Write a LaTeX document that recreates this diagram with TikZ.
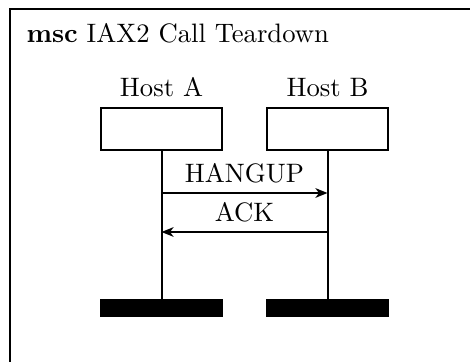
\documentclass[tikz,border=0pt]{standalone}
\usetikzlibrary{arrows.meta}
\begin{document}
\begin{tikzpicture}[x=0.375pt,y=-0.375pt,
  instbox/.style={draw,line width=0.75pt,minimum width=45.4pt,minimum height=15.4pt,inner sep=0pt,anchor=north},
  endbar/.style={fill=black,draw=black,line width=0.3pt,minimum width=46pt,minimum height=6.4pt,inner sep=0pt,anchor=north},
  lifeline/.style={line width=0.75pt},
  msg/.style={line width=0.75pt,-{Stealth[length=4.5pt,width=3.6pt,inset=1.3pt]}},
  lbl/.style={inner sep=0pt,anchor=base,font=\fontsize{10}{12}\selectfont}]
\useasboundingbox (0,0) rectangle (470,362);
\begin{scope}
\clip (0,0) rectangle (470,362);
\draw[line width=0.8pt] (10,9) rectangle (480,372);
\end{scope}
\node[lbl,anchor=base west] (title) at (26,43) {\textbf{msc} IAX2 Call Teardown};
% instances
\node[lbl] (la) at (161.5,97) {Host A};
\node[lbl] (lb) at (327.5,97) {Host B};
\node[instbox] (ha) at (161.5,107.5) {};
\node[instbox] (hb) at (327.5,107.5) {};
\node[endbar] (ea) at (161.5,299) {};
\node[endbar] (eb) at (327.5,299) {};
\draw[lifeline] (ha.south) -- (ea.north);
\draw[lifeline] (hb.south) -- (eb.north);
% messages
\coordinate (a1) at (161.5,193);
\coordinate (b1) at (327.5,193);
\coordinate (a2) at (161.5,232);
\coordinate (b2) at (327.5,232);
\draw[msg] (a1) -- (b1);
\draw[msg] (b2) -- (a2);
\node[lbl] (m1) at (244.5,183) {HANGUP};
\node[lbl] (m2) at (244.5,222) {ACK};
\end{tikzpicture}
\end{document}
